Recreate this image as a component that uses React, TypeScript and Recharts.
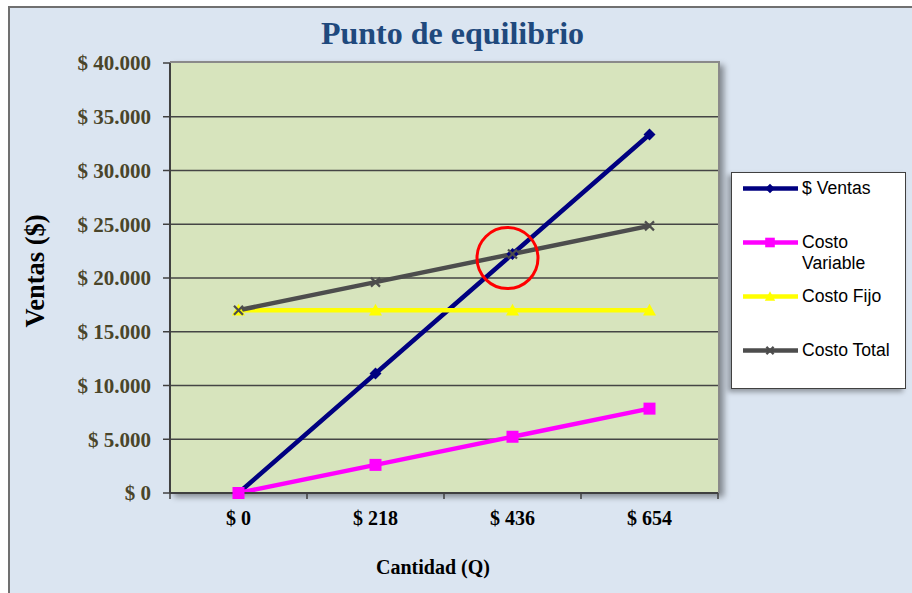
import React from 'react';
import {
  LineChart,
  Line,
  XAxis,
  YAxis,
  CartesianGrid,
  Legend,
  ReferenceDot,
  Label,
} from 'recharts';

// Quantities on the horizontal axis
const cantidades = [0, 218, 436, 654];
// Revenue and cost series for each quantity
const ventas = [0, 11118, 22236, 33354];
const costoVariable = [0, 2616, 5232, 7848];
const costoFijo = [17000, 17000, 17000, 17000];
const costoTotal = [17000, 19616, 22232, 24848];
// Value axis ticks
const yTicks = [0, 5000, 10000, 15000, 20000, 25000, 30000, 35000, 40000];
// Index of the break-even quantity
const equilibrioIndex = 2;

const fmt = (v: number) => '$ ' + String(v).replace(/\B(?=(\d{3})+(?!\d))/g, '.');

const data = cantidades.map((q, i) => ({
  q: fmt(q),
  ventas: ventas[i],
  variable: costoVariable[i],
  fijo: costoFijo[i],
  total: costoTotal[i],
}));

type MarkerKind = 'diamond' | 'square' | 'triangle' | 'cross';

const series: { key: string; name: string; color: string; marker: MarkerKind }[] = [
  { key: 'ventas', name: '$ Ventas', color: '#000080', marker: 'diamond' },
  { key: 'variable', name: 'Costo Variable', color: '#FF00FF', marker: 'square' },
  { key: 'fijo', name: 'Costo Fijo', color: '#FFFF00', marker: 'triangle' },
  { key: 'total', name: 'Costo Total', color: '#4D4D4D', marker: 'cross' },
];

const SERIF = '"Liberation Serif", "Times New Roman", serif';
const SANS = '"Liberation Sans", Arial, sans-serif';
const HALF_BAND = 68.5;

function Marker({ cx, cy, kind, color, s = 1 }: { cx: number; cy: number; kind: MarkerKind; color: string; s?: number }) {
  if (cx == null || cy == null) return null;
  if (kind === 'diamond') {
    const r = 6 * s;
    return <polygon points={`${cx},${cy - r} ${cx + r},${cy} ${cx},${cy + r} ${cx - r},${cy}`} fill={color} />;
  }
  if (kind === 'square') {
    const r = 6 * s;
    return <rect x={cx - r} y={cy - r} width={2 * r} height={2 * r} fill={color} />;
  }
  if (kind === 'triangle') {
    const r = 6.5 * s;
    return <polygon points={`${cx},${cy - r} ${cx + r},${cy + r * 0.8} ${cx - r},${cy + r * 0.8}`} fill={color} />;
  }
  const r = 4.5 * s;
  return (
    <g stroke={color} strokeWidth={2.2}>
      <line x1={cx - r} y1={cy - r} x2={cx + r} y2={cy + r} />
      <line x1={cx - r} y1={cy + r} x2={cx + r} y2={cy - r} />
    </g>
  );
}

function XTick(props: any) {
  const { x, y, payload, index, visibleTicksCount } = props;
  const axisY = y - 18;
  const last = index === (visibleTicksCount ?? cantidades.length) - 1;
  return (
    <g>
      <line x1={x - HALF_BAND} x2={x - HALF_BAND} y1={axisY} y2={axisY + 6} stroke="#404040" strokeWidth={1.5} />
      {last && <line x1={x + HALF_BAND} x2={x + HALF_BAND} y1={axisY} y2={axisY + 6} stroke="#404040" strokeWidth={1.5} />}
      <text x={x} y={y} dy="0.71em" textAnchor="middle" fontFamily={SERIF} fontWeight="bold" fontSize={20} fill="#000">
        {payload.value}
      </text>
    </g>
  );
}

// Legend entries follow the series order
function LegendBox() {
  return (
    <div
      style={{
        boxSizing: 'border-box',
        width: 175,
        height: 217,
        background: '#fff',
        border: '1px solid #404040',
        boxShadow: '-3px 3px 5px rgba(0,0,0,0.35)',
        paddingTop: 5,
      }}
    >
      {series.map((s) => (
        <div key={s.key} style={{ display: 'flex', alignItems: 'flex-start', height: 54 }}>
          <svg width={57} height={21} style={{ marginLeft: 11, flex: 'none' }}>
            <line x1={0} x2={55} y1={10.5} y2={10.5} stroke={s.color} strokeWidth={4.5} />
            <Marker cx={27} cy={10.5} kind={s.marker} color={s.color} s={0.8} />
          </svg>
          <div
            style={{
              marginLeft: 2,
              width: 100,
              fontFamily: SANS,
              fontSize: 17.6,
              lineHeight: '21px',
              color: '#000',
            }}
          >
            {s.name}
          </div>
        </div>
      ))}
    </div>
  );
}

export default function App() {
  return (
    <div style={{ position: 'absolute', left: 0, top: 0, width: 912, height: 593, overflow: 'hidden', background: '#fff' }}>
      {/* chart area */}
      <div
        style={{
          position: 'absolute',
          left: 8,
          top: 6,
          width: 920,
          height: 600,
          boxSizing: 'border-box',
          background: '#DBE5F1',
          borderLeft: '2px solid #707070',
          borderTop: '2px solid #707070',
        }}
      />
      {/* plot area backdrop with frame and shadow */}
      <div
        style={{
          position: 'absolute',
          left: 170,
          top: 61,
          width: 550,
          height: 432,
          boxSizing: 'border-box',
          background: '#D7E4BD',
          borderTop: '2px solid #8A8A8A',
          borderRight: '2px solid #8A8A8A',
          boxShadow: '4px 4px 6px rgba(0,0,0,0.4)',
        }}
      />
      <div
        style={{
          position: 'absolute',
          left: 0,
          top: 15,
          width: 905,
          textAlign: 'center',
          fontFamily: SERIF,
          fontWeight: 'bold',
          fontSize: 32,
          lineHeight: '36px',
          color: '#1F497D',
        }}
      >
        Punto de equilibrio
      </div>
      <div style={{ position: 'absolute', left: 0, top: 0 }}>
        <LineChart width={912} height={593} data={data} margin={{ top: 63, right: 194, bottom: 0, left: 0 }}>
          <CartesianGrid vertical={false} horizontalValues={yTicks.slice(1, -1)} stroke="#454545" strokeWidth={1.3} />
          <XAxis
            dataKey="q"
            padding={{ left: HALF_BAND, right: HALF_BAND }}
            height={100}
            tickSize={6}
            tickMargin={12}
            tickLine={false}
            axisLine={{ stroke: '#404040', strokeWidth: 2 }}
            tick={<XTick />}
            interval={0}
          >
            <Label
              content={({ viewBox }: any) => (
                <text
                  x={viewBox.x + viewBox.width / 2 - 11}
                  y={viewBox.y + 74}
                  textAnchor="middle"
                  dominantBaseline="central"
                  fontFamily={SERIF}
                  fontWeight="bold"
                  fontSize={20}
                  fill="#000"
                >
                  Cantidad (Q)
                </text>
              )}
            />
          </XAxis>
          <YAxis
            domain={[0, 40000]}
            ticks={yTicks}
            interval={0}
            width={170}
            tickSize={7}
            tickMargin={12}
            tickFormatter={fmt}
            axisLine={{ stroke: '#404040', strokeWidth: 2 }}
            tickLine={{ stroke: '#404040', strokeWidth: 1.5 }}
            tick={{ fontFamily: SERIF, fontWeight: 'bold', fontSize: 21, fill: '#4A452A' }}
          >
            <Label
              content={({ viewBox }: any) => {
                const cx = viewBox.x + 35;
                const cy = viewBox.y + viewBox.height / 2 - 7;
                return (
                  <text
                    x={cx}
                    y={cy}
                    transform={`rotate(-90 ${cx} ${cy})`}
                    textAnchor="middle"
                    dominantBaseline="central"
                    fontFamily={SERIF}
                    fontWeight="bold"
                    fontSize={26.5}
                    fill="#000"
                  >
                    Ventas ($)
                  </text>
                );
              }}
            />
          </YAxis>
          <ReferenceDot
            x={data[equilibrioIndex].q}
            y={costoTotal[equilibrioIndex]}
            shape={(p: any) => (
              <circle cx={p.cx - 5} cy={p.cy + 4} r={30.5} fill="none" stroke="#FF0000" strokeWidth={3} />
            )}
          />
          {series.map((s) => (
            <Line
              key={s.key}
              type="linear"
              dataKey={s.key}
              name={s.name}
              stroke={s.color}
              strokeWidth={4.5}
              isAnimationActive={false}
              dot={(p: any) => <Marker key={`${s.key}-${p.index}`} cx={p.cx} cy={p.cy} kind={s.marker} color={s.color} />}
              activeDot={false}
            />
          ))}
          <Legend
            layout="vertical"
            align="center"
            verticalAlign="middle"
            wrapperStyle={{ left: 731, top: 172, width: 175, height: 217 }}
            content={<LegendBox />}
          />
        </LineChart>
      </div>
    </div>
  );
}
